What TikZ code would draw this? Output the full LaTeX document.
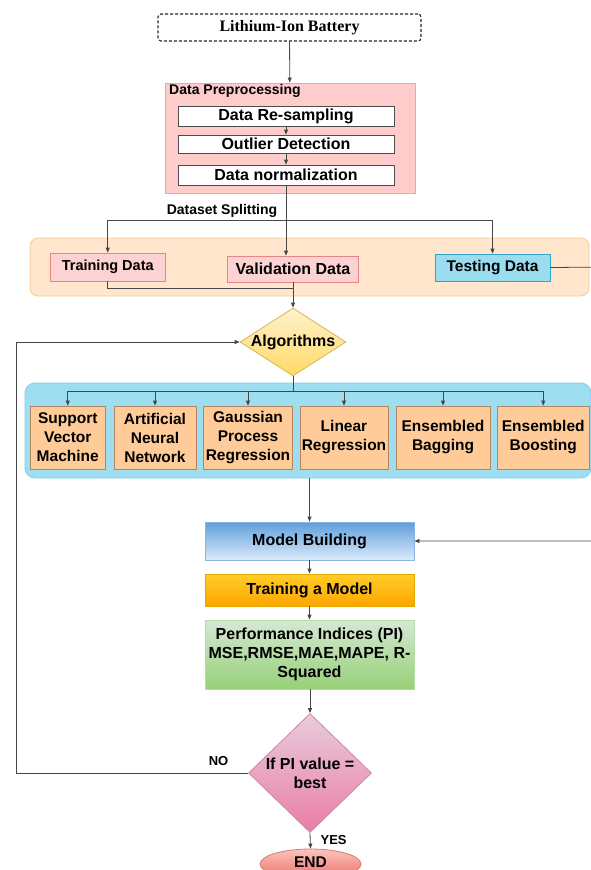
\documentclass[tikz,border=0pt]{standalone}
\usepackage{fontspec}
\setmainfont{Liberation Sans}
\newfontfamily\timesf{Liberation Serif}
\usetikzlibrary{shapes.geometric,arrows.meta}
\definecolor{preFill}{HTML}{FFCCCC}
\definecolor{preDraw}{HTML}{F4A3A3}
\definecolor{splitFill}{HTML}{FFE6CC}
\definecolor{splitDraw}{HTML}{F7CB90}
\definecolor{pinkFill}{HTML}{FCD3D2}
\definecolor{pinkDraw}{HTML}{E88585}
\definecolor{testFill}{HTML}{9ADCF0}
\definecolor{testDraw}{HTML}{2CA3C9}
\definecolor{algTop}{HTML}{FFF2CC}
\definecolor{algBot}{HTML}{FFD966}
\definecolor{algDraw}{HTML}{D6B656}
\definecolor{blueFill}{HTML}{9FDDF1}
\definecolor{blueDraw}{HTML}{7FCFE8}
\definecolor{orFill}{HTML}{FFCC99}
\definecolor{orDraw}{HTML}{B08560}
\definecolor{mbTop}{HTML}{5E9FDB}
\definecolor{mbBot}{HTML}{DCEAFB}
\definecolor{mbDraw}{HTML}{8DB3E2}
\definecolor{tmTop}{HTML}{FFCD28}
\definecolor{tmBot}{HTML}{FFA500}
\definecolor{tmDraw}{HTML}{E0A800}
\definecolor{piTop}{HTML}{D5E8D4}
\definecolor{piBot}{HTML}{97D077}
\definecolor{piDraw}{HTML}{B5DBA8}
\definecolor{decTop}{HTML}{E8CCDC}
\definecolor{decBot}{HTML}{EA7DA6}
\definecolor{decDraw}{HTML}{C98AA8}
\definecolor{endTop}{HTML}{FAC5BE}
\definecolor{endBot}{HTML}{EE6E68}
\definecolor{endDraw}{HTML}{D77A74}
\begin{document}
\begin{tikzpicture}[x=1pt,y=-1pt,
  font=\bfseries\fontsize{16}{19}\selectfont,
  conn/.style={draw=black!72, line width=0.8pt},
  arr/.style={conn,-{Triangle[length=5pt,width=4pt]}},
  box/.style={draw, inner sep=0pt, align=center, line width=0.8pt},
  inbox/.style={box, draw=black!70, fill=white, minimum width=216pt},
  algbox/.style={box, fill=orFill, draw=orDraw, minimum height=63pt,
    font=\bfseries\fontsize{15.5}{19}\selectfont},
  gbox/.style={box, minimum width=209pt},
  small/.style={font=\bfseries\fontsize{14}{16}\selectfont},
  tiny/.style={font=\bfseries\fontsize{13}{15}\selectfont},
]
\useasboundingbox (0,0) rectangle (591,870);

% Battery
\node[box, dash pattern=on 3pt off 2pt, rounded corners=3pt, draw=black!85, line width=1.1pt,
  minimum width=263pt, minimum height=27pt,
  font=\timesf\bfseries\fontsize{16}{19}\selectfont] (bat) at (289.5,27.5) {Lithium-Ion Battery};

% Preprocessing
\node[box, draw=preDraw, fill=preFill, minimum width=250pt, minimum height=110pt] (pre) at (290,138) {};
\node[anchor=west, small, inner sep=0pt] (pret) at (169,91) {Data Preprocessing};
\node[inbox, minimum height=20pt] (b1) at (286,116) {Data Re-sampling};
\node[inbox, minimum height=18pt] (b2) at (286,144) {Outlier Detection};
\node[inbox, minimum height=20pt] (b3) at (286,175) {Data normalization};
\draw[arr] (bat) -- (pre);
\draw[arr] (b1) -- (b2);
\draw[arr] (b2) -- (b3);

% Splitting
\node[box, draw=splitDraw, fill=splitFill, rounded corners=8pt, minimum width=559pt, minimum height=58pt] (split) at (309.5,267) {};
\node[small, inner sep=0pt] (dsl) at (222,211) {Dataset Splitting};
\node[box, draw=pinkDraw, fill=pinkFill, minimum width=114.5pt, minimum height=28pt,
  font=\bfseries\fontsize{14.5}{17}\selectfont] (train) at (107.75,267) {Training Data};
\node[box, draw=pinkDraw, fill=pinkFill, minimum width=131pt, minimum height=26pt] (val) at (293,269) {Validation Data};
\node[box, draw=testDraw, fill=testFill, minimum width=115pt, minimum height=27pt,
  font=\bfseries\fontsize{15.5}{18}\selectfont] (test) at (492.5,267.5) {Testing Data};
\coordinate (sp) at (286,220);
\draw[conn] (b3.south) -- (sp);
\draw[arr] (sp) -- (sp |- val.north);
\draw[arr] (sp) -| (train.north);
\draw[arr] (sp) -| (test.north);

% Algorithms
\node[diamond, draw=algDraw, top color=algTop, bottom color=algBot, line width=0.8pt,
  minimum width=106pt, minimum height=68pt, inner sep=0pt, aspect=1.56] (alg) at (293,342) {};
\node[inner sep=0pt] (algt) at (alg.center) {Algorithms};
\coordinate (j) at (293,288);
\draw[conn] (train.south) |- (j);
\draw[arr] (val.south) -- (alg.north);

% Algorithm container
\node[box, draw=blueDraw, fill=blueFill, rounded corners=10pt, minimum width=566pt, minimum height=95pt] (blue) at (308,430.5) {};
\node[algbox, minimum width=75.5pt] (svm) at (67.75,437.5) {Support\\Vector\\Machine};
\node[algbox, minimum width=82pt] (ann) at (155,437.5) {Artificial\\Neural\\Network};
\node[algbox, minimum width=89pt] (gpr) at (248,437.5) {Gaussian\\Process\\Regression};
\node[algbox, minimum width=88pt] (lr) at (344,437.5) {Linear\\Regression};
\node[algbox, minimum width=94pt] (ebag) at (443,437.5) {Ensembled\\Bagging};
\node[algbox, minimum width=91.5pt] (eboost) at (543.25,437.5) {Ensembled\\Boosting};
\coordinate (bus) at (293,391);
\draw[conn] (alg.south) -- (bus);
\foreach \a in {svm,ann,gpr,lr,ebag,eboost} \draw[arr] (bus) -| (\a.north);

% Model pipeline
\node[gbox, draw=mbDraw, top color=mbTop, bottom color=mbBot, minimum height=38pt] (mb) at (309.5,541) {Model Building};
\node[gbox, draw=tmDraw, top color=tmTop, bottom color=tmBot, minimum height=32pt] (tm) at (309.5,590) {Training a Model};
\node[gbox, draw=piDraw, top color=piTop, bottom color=piBot, minimum height=69pt] (pi) at (309.5,654.5)
  {Performance Indices (PI)\\MSE,RMSE,MAE,MAPE, R-\\Squared};
\draw[arr] (mb.north |- blue.south) -- (mb.north);
\draw[arr] (mb) -- (tm);
\draw[arr] (tm) -- (pi);
\coordinate (rr) at (610,267);
\draw[arr] (test.east) -- (rr) |- (mb.east);

% Decision
\node[diamond, draw=decDraw, top color=decTop, bottom color=decBot, line width=0.8pt,
  minimum width=123pt, minimum height=119pt, inner sep=0pt, aspect=1.03] (dec) at (310,773) {};
\node[inner sep=0pt, align=center] (dect) at (dec.center) {If PI value =\\best};
\draw[arr] (pi.south -| dec.north) -- (dec.north);
\coordinate (c1) at (16,773);
\coordinate (c2) at (16,342);
\draw[arr] (dec.west) -- (c1) -- (c2) -- (alg.west);
\node[tiny, inner sep=0pt] (no) at (218.6,761) {NO};

% End
\node[ellipse, draw=endDraw, top color=endTop, bottom color=endBot, line width=0.8pt,
  minimum width=101pt, minimum height=30pt, inner sep=0pt] (end) at (310.5,864) {};
\node[inner sep=0pt, font=\bfseries\fontsize{15.5}{18}\selectfont] (endt) at (310.5,862) {END};
\draw[arr] (dec.south) -- (end.north);
\node[tiny, inner sep=0pt] (yes) at (333.6,840) {YES};
\end{tikzpicture}
\end{document}
